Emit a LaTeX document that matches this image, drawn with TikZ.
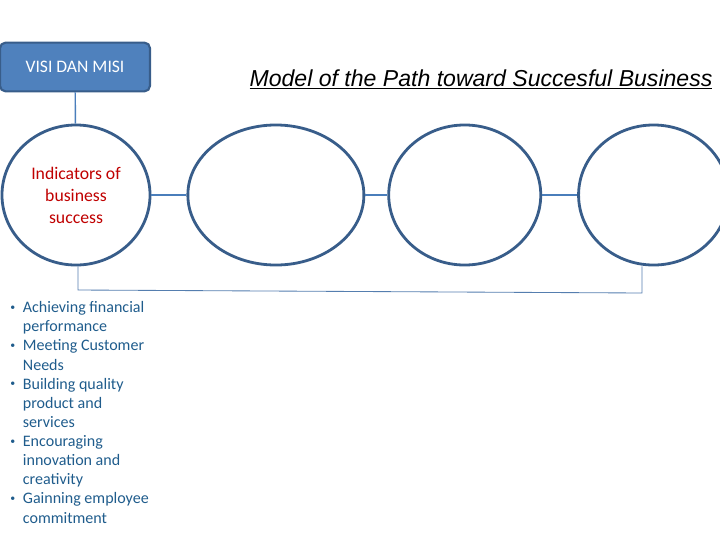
\documentclass[tikz,border=0pt]{standalone}
\usepackage{fontspec}
\setmainfont{Carlito}
\newfontfamily\titlefont{Liberation Sans}
\usepackage{xcolor}
\usetikzlibrary{positioning,shapes.geometric}
\definecolor{boxblue}{RGB}{79, 129, 189}
\definecolor{edgeblue}{RGB}{56, 93, 138}
\definecolor{lineblue}{RGB}{74, 126, 187}
\definecolor{indicred}{RGB}{192, 0, 0}
\definecolor{listblue}{RGB}{31, 92, 140}
\newcommand{\listdot}{\raisebox{0.3ex}{\scriptsize\textbullet}}

\begin{document}
\begin{tikzpicture}[
  x=0.025cm, y=-0.025cm,
  visibox/.style={rectangle, rounded corners=4pt, draw=edgeblue, line width=1.5pt, fill=boxblue, minimum width=3.75cm, minimum height=1.22cm, text=white, font=\fontsize{12.5}{15}\selectfont},
  pathcircle/.style={ellipse, draw=edgeblue, line width=2pt, fill=white, inner sep=0pt, minimum height=3.5cm},
  link/.style={draw=lineblue, line width=1pt},
  thinlink/.style={draw=lineblue!80!gray, line width=0.6pt}
]
  \useasboundingbox (0,0) rectangle (720,540);

  \node[visibox] (visi) at (75,67) {VISI DAN MISI};
  \node[pathcircle, minimum width=3.7cm, text=indicred, align=center, font=\fontsize{12.6}{15.6}\selectfont] (indicators) at (76,195) {Indicators of\\business\\success};
  \node[pathcircle, minimum width=4.4cm, right=0.875cm of indicators] (pathtwo) {};
  \node[pathcircle, minimum width=3.8cm, right=0.55cm of pathtwo] (paththree) {};
  \node[pathcircle, minimum width=3.75cm, right=0.875cm of paththree] (pathfour) {};

  \node[anchor=base, font=\titlefont\itshape\fontsize{16.4}{19}\selectfont] (title) at (481,86) {\underline{Model of the Path toward Succesful Business}};

  \node[anchor=north west, inner sep=0pt, text=listblue, font=\fontsize{11.4}{13.6}\selectfont] (indicatorlist) at (10,299) {%
    \begin{tabular}{@{}l@{\hspace{5.5pt}}l@{}}
      \listdot & Achieving financial\\
               & performance\\
      \listdot & Meeting Customer\\
               & Needs\\
      \listdot & Building quality\\
               & product and\\
               & services\\
      \listdot & Encouraging\\
               & innovation and\\
               & creativity\\
      \listdot & Gainning employee\\
               & commitment
    \end{tabular}};

  \coordinate (lowleft) at (78,290);
  \coordinate (lowright) at (642,293);

  \draw[link] (visi) -- (indicators);
  \draw[link] (indicators) -- (pathtwo);
  \draw[link] (pathtwo) -- (paththree);
  \draw[link] (paththree) -- (pathfour);
  \draw[thinlink] (indicators.south -| lowleft) -- (lowleft) -- (lowright) -- (pathfour.south -| lowright);
\end{tikzpicture}
\end{document}
